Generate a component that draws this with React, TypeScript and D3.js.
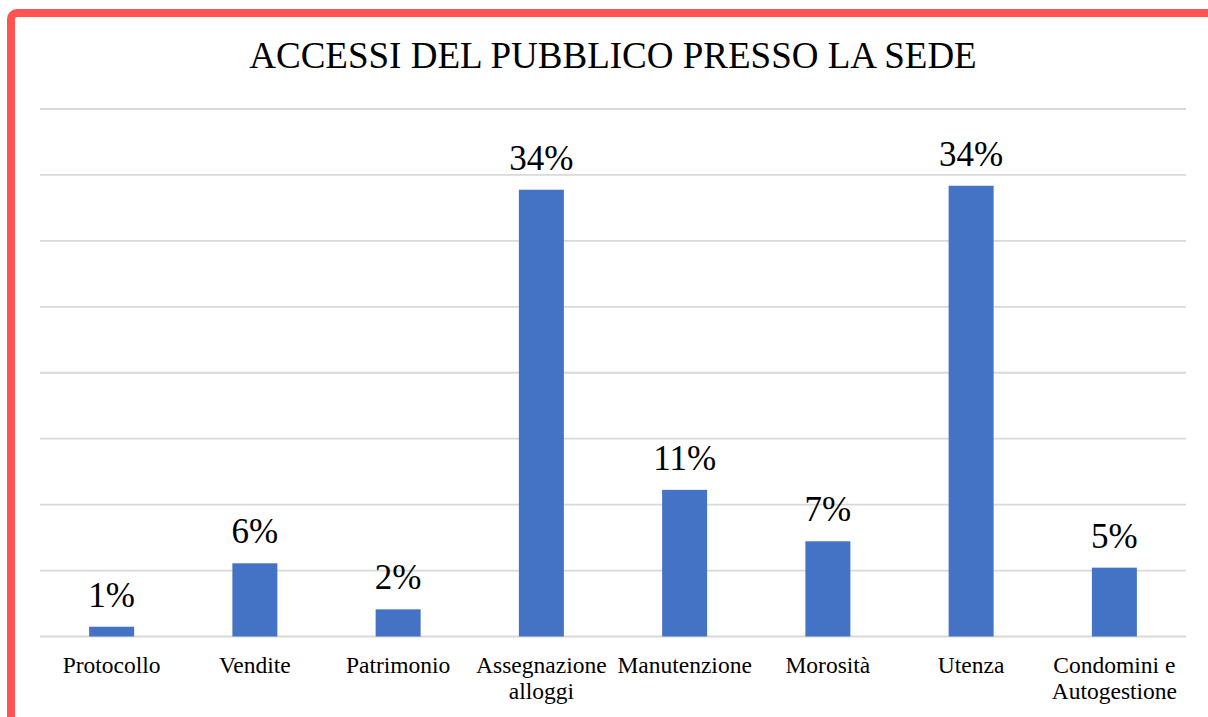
import { useRef, useEffect } from "react";
import * as d3 from "d3";

const categories = [
  "Protocollo",
  "Vendite",
  "Patrimonio",
  "Assegnazione alloggi",
  "Manutenzione",
  "Morosità",
  "Utenza",
  "Condomini e Autogestione",
];

// shares of total accesses (labels shown rounded)
const values = [0.0074, 0.0555, 0.0206, 0.3388, 0.1112, 0.0722, 0.3418, 0.0522];

// category labels split into lines as in the original
const labelLines = [
  ["Protocollo"],
  ["Vendite"],
  ["Patrimonio"],
  ["Assegnazione", "alloggi"],
  ["Manutenzione"],
  ["Morosità"],
  ["Utenza"],
  ["Condomini e", "Autogestione"],
];

const gridTicks = [0, 0.05, 0.1, 0.15, 0.2, 0.25, 0.3, 0.35, 0.4];

const title = "ACCESSI DEL PUBBLICO PRESSO LA SEDE";

const W = 1208;
const H = 717;
const FONT = "'Liberation Serif', 'Times New Roman', serif";

const App = () => {
  const svgRef = useRef<SVGSVGElement | null>(null);

  useEffect(() => {
    if (!svgRef.current) return;
    const svg = d3.select(svgRef.current);
    svg.selectAll("*").remove();

    const plot = { left: 40, right: 1186, top: 109, bottom: 636.5 };

    svg.append("rect").attr("width", W).attr("height", H).attr("fill", "#fff");

    // red frame, cut off by the window on right and bottom
    svg
      .append("rect")
      .attr("x", 11)
      .attr("y", 13)
      .attr("width", 1400)
      .attr("height", 900)
      .attr("rx", 6)
      .attr("fill", "none")
      .attr("stroke", "#ff5252")
      .attr("stroke-width", 8);

    svg
      .append("text")
      .attr("x", (plot.left + plot.right) / 2)
      .attr("y", 68)
      .attr("text-anchor", "middle")
      .attr("font-family", FONT)
      .attr("font-size", 37)
      .attr("fill", "#000")
      .text(title);

    const x = d3
      .scaleBand<string>()
      .domain(categories)
      .range([plot.left, plot.right])
      .paddingInner(0.686)
      .paddingOuter(0.343);

    const y = d3
      .scaleLinear()
      .domain([0, 0.4])
      .range([plot.bottom, plot.top]);

    const g = svg.append("g");

    g.selectAll("line.grid")
      .data(gridTicks)
      .join("line")
      .attr("class", "grid")
      .attr("x1", plot.left)
      .attr("x2", plot.right)
      .attr("y1", (d) => y(d))
      .attr("y2", (d) => y(d))
      .attr("stroke", "#d9d9d9")
      .attr("stroke-width", 1.8);

    const data = categories.map((c, i) => ({ c, v: values[i], lines: labelLines[i] }));

    g.selectAll("rect.bar")
      .data(data)
      .join("rect")
      .attr("class", "bar")
      .attr("x", (d) => x(d.c)!)
      .attr("width", x.bandwidth())
      .attr("y", (d) => y(d.v))
      .attr("height", (d) => y(0) - y(d.v))
      .attr("fill", "#4472c4");

    const pct = d3.format(".0%");

    g.selectAll("text.val")
      .data(data)
      .join("text")
      .attr("class", "val")
      .attr("x", (d) => x(d.c)! + x.bandwidth() / 2)
      .attr("y", (d) => y(d.v) - 20)
      .attr("text-anchor", "middle")
      .attr("font-family", FONT)
      .attr("font-size", 35)
      .attr("fill", "#000")
      .text((d) => pct(d.v));

    const cat = g
      .selectAll("text.cat")
      .data(data)
      .join("text")
      .attr("class", "cat")
      .attr("text-anchor", "middle")
      .attr("font-family", FONT)
      .attr("font-size", 23.5)
      .attr("fill", "#000");

    cat
      .selectAll("tspan")
      .data((d) => d.lines.map((t) => ({ t, cx: x(d.c)! + x.bandwidth() / 2 })))
      .join("tspan")
      .attr("x", (d) => d.cx)
      .attr("y", (_d, i) => 672.5 + i * 26.5)
      .text((d) => d.t);
  }, []);

  return (
    <div style={{ position: "fixed", left: 0, top: 0, width: W, height: H }}>
      <svg ref={svgRef} width={W} height={H} style={{ display: "block" }}></svg>
    </div>
  );
};

export default App;
